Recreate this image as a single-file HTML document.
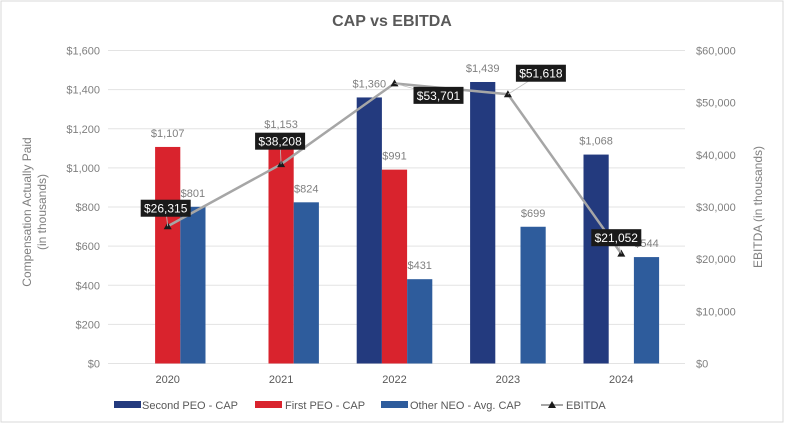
<!DOCTYPE html>
<html><head><meta charset="utf-8"><style>
body{margin:0;background:#fff;}
svg{display:block;font-family:"Liberation Sans",Arial,sans-serif;}
</style></head><body>
<svg id="chart" width="785" height="424" viewBox="0 0 785 424">
<rect x="1" y="1" width="782" height="421" fill="#fff" stroke="#d9d9d9"/>
<text x="392" y="26" text-anchor="middle" font-size="16" font-weight="bold" fill="#595959">CAP vs EBITDA</text>
<text transform="translate(31,212) rotate(-90)" text-anchor="middle" font-size="12" fill="#7f7f7f"><tspan x="0" dy="0">Compensation Actually Paid</tspan><tspan x="0" dy="15">(in thousands)</tspan></text>
<text transform="translate(762,207) rotate(-90)" text-anchor="middle" font-size="12" fill="#7f7f7f">EBITDA (in thousands)</text>
<g id="grid"></g><g id="bars"></g><g id="line"></g><g id="labels"></g>
<g font-size="11" fill="#595959">
<rect x="114" y="401" width="27" height="7" fill="#233a7e"/>
<text x="142" y="409">Second PEO - CAP</text>
<rect x="255" y="401" width="27" height="7" fill="#d9232d"/>
<text x="285" y="409">First PEO - CAP</text>
<rect x="381" y="401" width="27" height="7" fill="#2e5c9c"/>
<text x="410" y="409">Other NEO - Avg. CAP</text>
<line x1="541" y1="405" x2="563" y2="405" stroke="#a6a6a6" stroke-width="2"/>
<path d="M552,401 L556,408 L548,408 Z" fill="#1a1a1a"/>
<text x="566" y="409">EBITDA</text>
</g>
</svg>
<script>
const years=["2020","2021","2022","2023","2024"];
const secondPeo=[null,null,1360,1439,1068];
const firstPeo=[1107,1153,991,null,null];
const otherNeo=[801,824,431,699,544];
const ebitda=[26315,38208,53701,51618,21052];
const leftTicks=[0,200,400,600,800,1000,1200,1400,1600];
const rightTicks=[0,10000,20000,30000,40000,50000,60000];

const NS="http://www.w3.org/2000/svg";
const X0=111,X1=678,Y0=363.5,Y1=50.5;
const step=(X1-X0)/years.length;
const xc=i=>X0+step*(i+0.5);
const yL=v=>Y0-(v/1600)*(Y0-Y1);
const yR=v=>Y0-(v/60000)*(Y0-Y1);
const fmt=v=>"$"+v.toLocaleString("en-US");
function mk(tag,attrs,parent,text){const e=document.createElementNS(NS,tag);for(const k in attrs)e.setAttribute(k,attrs[k]);if(text!=null)e.textContent=text;parent.appendChild(e);return e;}
const grid=document.getElementById("grid"),bars=document.getElementById("bars"),line=document.getElementById("line"),labels=document.getElementById("labels");

leftTicks.forEach(t=>{
  const l=mk("line",{x1:108,x2:685,y1:yL(t),y2:yL(t),stroke:"#e3e3e3","stroke-width":1},grid);
  
  
  const tx=mk("text",{x:100,y:yL(t)+4,"text-anchor":"end","font-size":11,fill:"#7f7f7f"},grid,fmt(t));
  
  
});
rightTicks.forEach(t=>{
  const tx=mk("text",{x:696,y:yR(t)+4,"font-size":11,fill:"#7f7f7f"},grid,fmt(t));
  
  
});
years.forEach((y,i)=>{
  const tx=mk("text",{x:xc(i),y:383,"text-anchor":"middle","font-size":11,fill:"#595959"},grid,y);
  
  
});
const BW=25.2;
const series=[[secondPeo,-1,"#233a7e","bar-second-peo"],[firstPeo,0,"#d9232d","bar-first-peo"],[otherNeo,1,"#2e5c9c","bar-other-neo"]];
series.forEach(([arr,off,col,name])=>{
  arr.forEach((v,i)=>{
    if(v==null)return;
    const cx=xc(i)+off*BW;
    const r=mk("rect",{x:cx-BW/2,y:yL(v),width:BW,height:Y0-yL(v),fill:col},bars);
    
    
    const t=mk("text",{x:cx,y:yL(v)-10,"text-anchor":"middle","font-size":11,fill:"#7f7f7f"},labels,fmt(v));
    
    
  });
});
const pts=ebitda.map((v,i)=>[xc(i),yR(v)]);
const pl=mk("polyline",{points:pts.map(p=>p.join(",")).join(" "),fill:"none",stroke:"#a6a6a6","stroke-width":2.5},line);


const boxOff=[[-2,-18],[-1,-23],[44,12],[33,-21],[-5,-16]];
pts.forEach(([x,y],i)=>{
  const m=mk("path",{d:`M${x},${y-4} L${x+4},${y+3} L${x-4},${y+3} Z`,fill:"#1a1a1a"},line);
  
  
  const bx=x+boxOff[i][0],by=y+boxOff[i][1];
  const ld=mk("line",{x1:x,y1:y,x2:bx,y2:by,stroke:"#bfbfbf","stroke-width":0.8},labels);
  
  
  const r=mk("rect",{x:bx-25,y:by-8.5,width:50,height:17,fill:"#1a1a1a"},labels);
  
  
  const t=mk("text",{x:bx,y:by+4.5,"text-anchor":"middle","font-size":12,fill:"#fff"},labels,fmt(ebitda[i]));
  
  
});
</script>
</body></html>
